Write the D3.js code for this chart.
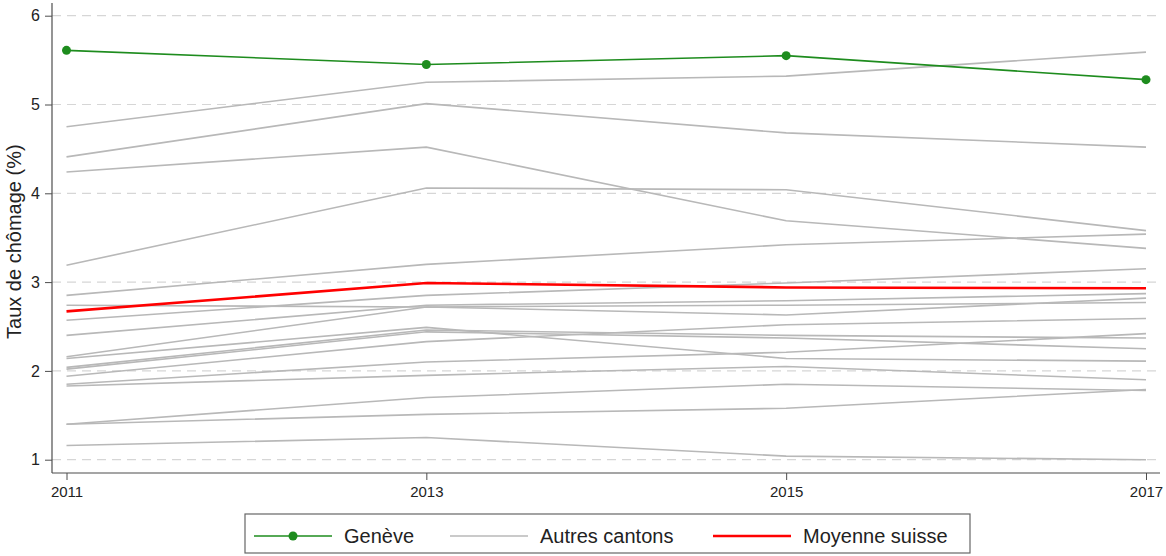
<!DOCTYPE html>
<html>
<head>
<meta charset="utf-8">
<script src="https://cdn.jsdelivr.net/npm/d3@7"></script>
<style>
  html, body { margin: 0; padding: 0; background: #fff; }
  svg { display: block; font-family: "Liberation Sans", Arial, sans-serif; }
</style>
</head>
<body>
<svg id="chart" width="1166" height="556"></svg>
<script>
// ---- Data ----
const years = [2011, 2013, 2015, 2017];
const yTicks = [1, 2, 3, 4, 5, 6];
const geneve = [5.61, 5.45, 5.55, 5.28];
const moyenneSuisse = [2.67, 2.99, 2.94, 2.93];
const autresCantons = [
  [4.75, 5.25, 5.32, 5.59],
  [4.41, 5.01, 4.68, 4.52],
  [4.24, 4.52, 3.69, 3.38],
  [3.19, 4.06, 4.04, 3.58],
  [2.85, 3.20, 3.42, 3.54],
  [2.57, 2.85, 2.99, 3.15],
  [2.74, 2.72, 2.74, 2.77],
  [2.40, 2.74, 2.79, 2.87],
  [2.16, 2.72, 2.63, 2.82],
  [2.14, 2.49, 2.14, 2.11],
  [2.04, 2.46, 2.40, 2.37],
  [2.02, 2.44, 2.37, 2.25],
  [1.94, 2.33, 2.52, 2.59],
  [1.85, 2.10, 2.21, 2.42],
  [1.83, 1.95, 2.05, 1.90],
  [1.40, 1.70, 1.85, 1.78],
  [1.40, 1.51, 1.58, 1.79],
  [1.16, 1.25, 1.04, 1.00]
];
const legendLabels = ["Genève", "Autres cantons", "Moyenne suisse"];

// ---- Layout ----
const svg = d3.select("#chart");
const frame = { left: 52, right: 1160, top: 3, bottom: 473 };
const x = d3.scaleLinear().domain([2011, 2017]).range([66.5, 1146]);
const y = d3.scaleLinear().domain([1, 6]).range([459.7, 15.7]);

const colGreen = "#1e8c1e", colGray = "#b8b8b8", colRed = "#ff0000", axisCol = "#4d4d4d";

// gridlines
svg.append("g").selectAll("line").data(yTicks).join("line")
  .attr("x1", frame.left).attr("x2", frame.right)
  .attr("y1", d => y(d)).attr("y2", d => y(d))
  .attr("stroke", "#d6d6d6").attr("stroke-width", 1.2)
  .attr("stroke-dasharray", "9,6");

// y axis
const yAxis = d3.axisLeft(y).tickValues(yTicks).tickSize(7).tickPadding(5).tickFormat(d3.format("d"));
const gy = svg.append("g").attr("transform", `translate(${frame.left},0)`).call(yAxis);
gy.select(".domain").remove();
gy.selectAll(".tick line").attr("stroke", axisCol);
gy.selectAll(".tick text").attr("font-size", 16).attr("fill", "#222")
  .attr("font-family", "Liberation Sans, Arial, sans-serif");
svg.append("line").attr("x1", frame.left).attr("x2", frame.left)
  .attr("y1", frame.top).attr("y2", frame.bottom).attr("stroke", axisCol).attr("stroke-width", 1.2);

// x axis
const xAxis = d3.axisBottom(x).tickValues(years).tickSize(7).tickPadding(6).tickFormat(d3.format("d"));
const gx = svg.append("g").attr("transform", `translate(0,${frame.bottom})`).call(xAxis);
gx.select(".domain").remove();
gx.selectAll(".tick line").attr("stroke", axisCol);
gx.selectAll(".tick text").attr("font-size", 15).attr("fill", "#222")
  .attr("font-family", "Liberation Sans, Arial, sans-serif");
svg.append("line").attr("x1", frame.left).attr("x2", frame.right)
  .attr("y1", frame.bottom).attr("y2", frame.bottom).attr("stroke", axisCol).attr("stroke-width", 1.2);

// y title
svg.append("text")
  .attr("transform", `translate(21,${(y(1) + y(6)) / 2 + 4}) rotate(-90)`)
  .attr("text-anchor", "middle").attr("font-size", 20).attr("fill", "#222")
  .text("Taux de chômage (%)");

// lines
const line = d3.line().x((d, i) => x(years[i])).y(d => y(d));
svg.append("g").selectAll("path").data(autresCantons).join("path")
  .attr("d", line).attr("fill", "none").attr("stroke", colGray).attr("stroke-width", 1.6);

svg.append("path").datum(moyenneSuisse).attr("d", line)
  .attr("fill", "none").attr("stroke", colRed).attr("stroke-width", 2.6);

svg.append("path").datum(geneve).attr("d", line)
  .attr("fill", "none").attr("stroke", colGreen).attr("stroke-width", 1.6);
svg.append("g").selectAll("circle").data(geneve).join("circle")
  .attr("cx", (d, i) => x(years[i])).attr("cy", d => y(d)).attr("r", 4.5).attr("fill", colGreen);

// legend
const lg = svg.append("g");
lg.append("rect").attr("x", 245).attr("y", 514).attr("width", 725).attr("height", 39)
  .attr("fill", "#fff").attr("stroke", "#666").attr("stroke-width", 1.2);
const items = [
  { label: legendLabels[0], color: colGreen, w: 1.6, dot: true, x0: 254 },
  { label: legendLabels[1], color: colGray, w: 1.6, dot: false, x0: 450 },
  { label: legendLabels[2], color: colRed, w: 2.6, dot: false, x0: 713 }
];
const ly = 536;
items.forEach(it => {
  lg.append("line").attr("x1", it.x0).attr("x2", it.x0 + 78).attr("y1", ly).attr("y2", ly)
    .attr("stroke", it.color).attr("stroke-width", it.w);
  if (it.dot) lg.append("circle").attr("cx", it.x0 + 39).attr("cy", ly).attr("r", 4.5).attr("fill", it.color);
  lg.append("text").attr("x", it.x0 + 90).attr("y", ly + 7).attr("font-size", 20).attr("fill", "#222").text(it.label);
});
</script>
</body>
</html>
